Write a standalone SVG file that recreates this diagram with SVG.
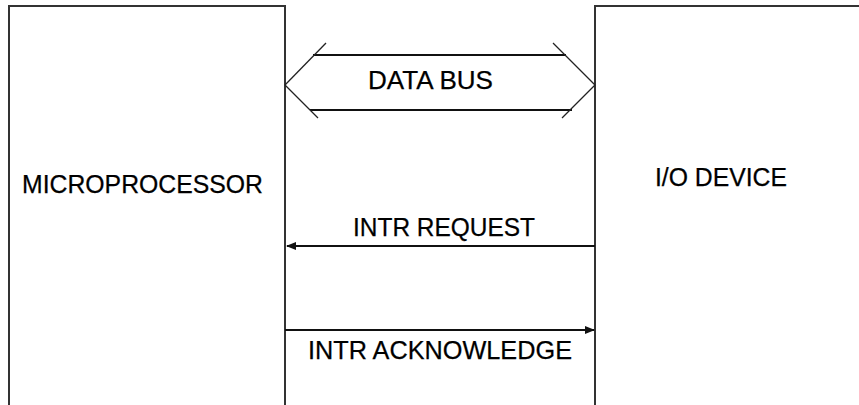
<svg xmlns="http://www.w3.org/2000/svg" width="859" height="405" viewBox="0 0 859 405">
<style>
.box{fill:#fff;stroke:#333;stroke-width:2}
.ln{stroke:#111;stroke-width:2;fill:none}
.dg{stroke:#222;stroke-width:1.3;fill:none}
text{font-family:"Liberation Sans",Arial,sans-serif;font-size:26px;fill:#000;stroke:#000;stroke-width:0.25}
</style>
<defs>
<marker id="ah" viewBox="0 0 10 10" refX="9" refY="5" markerWidth="5" markerHeight="5" orient="auto-start-reverse" markerUnits="strokeWidth">
<path d="M0,1 L10,5 L0,9 Z" fill="#111"/>
</marker>
</defs>
<rect width="859" height="405" fill="#fff"/>
<g id="microprocessor">
<path class="box" d="M9,410 L9,6 L285,6 L285,410"/>
<text x="22" y="193" textLength="241" lengthAdjust="spacingAndGlyphs">MICROPROCESSOR</text>
</g>
<g id="io-device">
<path class="box" d="M870,6 L595,6 L595,410"/>
<text x="655" y="186" textLength="132" lengthAdjust="spacingAndGlyphs">I/O DEVICE</text>
</g>
<g id="connectors">
<g id="data-bus">
<line class="ln" x1="313" y1="55" x2="566" y2="55"/>
<line class="ln" x1="310" y1="110" x2="572" y2="110"/>
<line class="dg" x1="326" y1="43" x2="285" y2="85"/>
<line class="dg" x1="285" y1="85" x2="318" y2="118"/>
<line class="dg" x1="553" y1="43" x2="595" y2="85"/>
<line class="dg" x1="595" y1="85" x2="562" y2="118"/>
<text x="368" y="89" textLength="125" lengthAdjust="spacingAndGlyphs">DATA BUS</text>
</g>
<g id="intr-request">
<line class="ln" x1="595" y1="246" x2="287" y2="246" marker-end="url(#ah)"/>
<text x="353" y="236" textLength="182" lengthAdjust="spacingAndGlyphs">INTR REQUEST</text>
</g>
<g id="intr-ack">
<line class="ln" x1="285" y1="330" x2="594" y2="330" marker-end="url(#ah)"/>
<text x="308" y="359" textLength="264" lengthAdjust="spacingAndGlyphs">INTR ACKNOWLEDGE</text>
</g>
</g>
</svg>
